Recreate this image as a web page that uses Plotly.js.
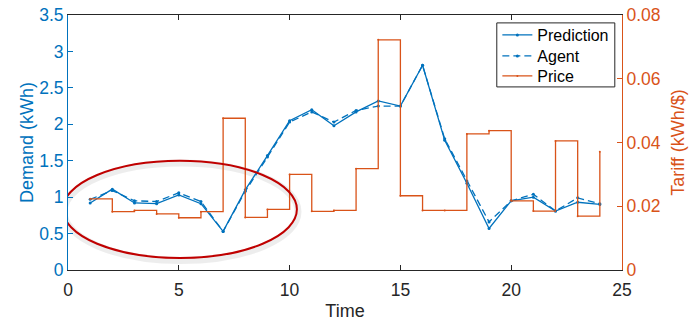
<!DOCTYPE html>
<html>
<head>
<meta charset="utf-8">
<script src="https://cdn.plot.ly/plotly-3.0.1.min.js"></script>
<style>html,body{margin:0;padding:0;background:#fff;}#chart{width:691px;height:321px;}</style>
</head>
<body>
<div id="chart"></div>
<script>
var time = [1,2,3,4,5,6,7,8,9,10,11,12,13,14,15,16,17,18,19,20,21,22,23,24];
var prediction = [0.92,1.11,0.92,0.91,1.03,0.91,0.53,1.10,1.57,2.05,2.20,1.98,2.17,2.32,2.25,2.81,1.78,1.19,0.57,0.95,1.00,0.81,0.93,0.90];
var agent = [0.97,1.09,0.95,0.94,1.06,0.94,0.53,1.08,1.55,2.03,2.17,2.03,2.19,2.25,2.25,2.81,1.80,1.22,0.66,0.95,1.04,0.81,0.99,0.91];
var price = [0.0223,0.0183,0.0187,0.0176,0.0164,0.0183,0.0476,0.0165,0.0190,0.0300,0.0184,0.0187,0.0318,0.0722,0.0233,0.0187,0.0187,0.0427,0.0437,0.0217,0.0185,0.0405,0.0169,0.0371];
var demandTicks = [0,0.5,1,1.5,2,2.5,3,3.5];
var demandTickText = ['0','0.5','1','1.5','2','2.5','3','3.5'];
var tariffTicks = [0,0.02,0.04,0.06,0.08];
var tariffTickText = ['0','0.02','0.04','0.06','0.08'];
var timeTicks = [0,5,10,15,20,25];

var blue = '#0072BD', orange = '#D95319';
var traces = [
  {x: time, y: prediction, name: 'Prediction', legend: 'legend', mode: 'lines+markers', line: {color: blue, width: 1.3}, marker: {size: 3, color: blue}},
  {x: time, y: agent, name: 'Agent', legend: 'legend2', mode: 'lines+markers', line: {color: blue, width: 1.3, dash: '7px,4px'}, marker: {size: 3, color: blue}},
  {x: time, y: price, name: 'Price', legend: 'legend3', yaxis: 'y2', mode: 'lines+markers', line: {color: orange, width: 1.3, shape: 'hv'}, marker: {size: 2, color: orange}}
];
var fontFam = '"Liberation Sans", Arial, Helvetica, sans-serif';
function leg(yc) {
  return {x: 0.775, xanchor: 'left', y: yc, yanchor: 'middle', bgcolor: 'rgba(0,0,0,0)', borderwidth: 0, font: {size: 16, color: '#000'}, itemwidth: 30};
}
var layout = {
  width: 691, height: 321,
  margin: {l: 68, r: 69, t: 15, b: 51},
  paper_bgcolor: '#fff', plot_bgcolor: '#fff',
  font: {family: fontFam, size: 17, color: '#262626'},
  showlegend: true,
  legend: leg(0.9216),
  legend2: leg(0.8392),
  legend3: leg(0.7608),
  xaxis: {range: [0, 25], tickvals: timeTicks, ticks: 'inside', ticklen: 5, tickcolor: '#262626', showline: true, linecolor: '#262626', linewidth: 1, mirror: 'ticks', showgrid: false, zeroline: false, ticklabelstandoff: 4, tickfont: {size: 17.5, color: '#262626'}, title: {text: 'Time', font: {size: 18, color: '#262626'}, standoff: 6}},
  yaxis: {range: [0, 3.5], tickvals: demandTicks, ticktext: demandTickText, ticks: 'inside', ticklen: 5, tickcolor: blue, showline: true, linecolor: blue, linewidth: 1, showgrid: false, zeroline: false, tickfont: {size: 17.5, color: blue}, title: {text: 'Demand (kWh)', font: {size: 18, color: blue}, standoff: 0}},
  yaxis2: {range: [0, 0.08], overlaying: 'y', side: 'right', tickvals: tariffTicks, ticktext: tariffTickText, ticks: 'inside', ticklen: 5, tickcolor: orange, showline: true, linecolor: orange, linewidth: 1, showgrid: false, zeroline: false, tickfont: {size: 17.5, color: orange}, title: {text: 'Tariff (kWh/$)', font: {size: 18, color: orange}, standoff: 11}},
  shapes: [
    {type: 'circle', xref: 'x', yref: 'y', x0: -0.18, x1: 10.38, y0: 0.13, y1: 1.47, line: {color: 'rgba(0,0,0,0.07)', width: 7}, layer: 'below'},
    {type: 'circle', xref: 'x', yref: 'y', x0: -0.23, x1: 10.33, y0: 0.165, y1: 1.5, line: {color: '#C00000', width: 2}},
    {type: 'rect', xref: 'paper', yref: 'paper', x0: 0.774, x1: 0.987, y0: 0.718, y1: 0.969, fillcolor: '#fff', line: {color: '#262626', width: 1}, layer: 'above'}
  ]
};
Plotly.newPlot('chart', traces, layout, {displayModeBar: false, staticPlot: true});
</script>
</body>
</html>
